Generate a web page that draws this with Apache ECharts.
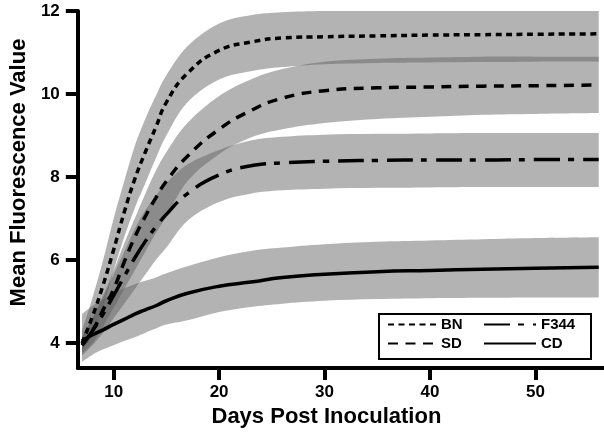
<!DOCTYPE html>
<html>
<head>
<meta charset="utf-8">
<script src="https://cdn.jsdelivr.net/npm/echarts@6/dist/echarts.min.js"></script>
<style>html,body{margin:0;padding:0;background:#fff}#chart{width:604px;height:435px}</style>
</head>
<body>
<div id="chart"></div>
<script>
// Days post inoculation (x positions of the sampled points)
const xs = [7, 8, 9, 10, 11, 12, 13, 14, 15, 17, 20, 23, 26, 30, 35, 40, 45, 50, 56];

const bnMean  = [4.0, 4.65, 5.4, 6.25, 7.15, 7.95, 8.6, 9.2, 9.8, 10.5, 11.05, 11.25, 11.35, 11.38, 11.4, 11.42, 11.43, 11.44, 11.45];
const bnUpper = [4.3, 5.1, 6.0, 7.0, 7.9, 8.75, 9.4, 9.95, 10.45, 11.15, 11.7, 11.9, 11.97, 12.0, 12.0, 12.0, 12.0, 12.0, 12.0];
const bnLower = [3.8, 4.2, 4.85, 5.75, 6.55, 7.25, 7.85, 8.45, 9.0, 9.8, 10.35, 10.55, 10.65, 10.72, 10.75, 10.76, 10.77, 10.78, 10.78];

const sdMean  = [3.95, 4.3, 4.8, 5.3, 5.95, 6.55, 7.05, 7.5, 7.9, 8.5, 9.15, 9.6, 9.9, 10.08, 10.15, 10.17, 10.19, 10.2, 10.22];
const sdUpper = [4.15, 4.6, 5.15, 5.75, 6.4, 7.0, 7.6, 8.15, 8.6, 9.3, 9.95, 10.35, 10.6, 10.78, 10.85, 10.88, 10.9, 10.9, 10.9];
const sdLower = [3.75, 4.0, 4.4, 4.85, 5.3, 5.75, 6.2, 6.65, 7.05, 7.9, 8.55, 8.95, 9.15, 9.3, 9.4, 9.45, 9.5, 9.52, 9.54];

const f344Mean  = [3.95, 4.3, 4.7, 5.15, 5.6, 6.05, 6.45, 6.8, 7.1, 7.6, 8.05, 8.27, 8.34, 8.38, 8.4, 8.41, 8.41, 8.42, 8.42];
const f344Upper = [4.15, 4.6, 5.1, 5.65, 6.2, 6.75, 7.2, 7.55, 7.85, 8.3, 8.65, 8.88, 8.97, 9.02, 9.04, 9.05, 9.06, 9.06, 9.06];
const f344Lower = [3.7, 3.95, 4.25, 4.6, 4.95, 5.3, 5.65, 6.0, 6.3, 6.95, 7.4, 7.6, 7.68, 7.72, 7.74, 7.75, 7.76, 7.76, 7.76];

const cdMean  = [4.05, 4.2, 4.32, 4.45, 4.57, 4.7, 4.8, 4.9, 5.02, 5.2, 5.37, 5.47, 5.58, 5.66, 5.72, 5.75, 5.78, 5.8, 5.83];
const cdUpper = [4.7, 4.9, 5.05, 5.2, 5.32, 5.42, 5.5, 5.58, 5.68, 5.85, 6.07, 6.22, 6.3, 6.38, 6.44, 6.47, 6.5, 6.53, 6.55];
const cdLower = [3.55, 3.72, 3.85, 3.95, 4.05, 4.14, 4.25, 4.35, 4.45, 4.55, 4.75, 4.87, 4.95, 5.02, 5.06, 5.08, 5.09, 5.1, 5.1];

const xTicks = [10, 20, 30, 40, 50];
const yTicks = [4, 6, 8, 10, 12];

const FONT = '"Liberation Sans", Arial, sans-serif';
const bandColor = 'rgba(94,94,94,0.47)';

function pairs(arr) { return xs.map((x, i) => [x, arr[i]]); }

// Smooth path through the band outline (top forward, bottom backward)
function smoothSeg(pts) {
  let d = '';
  const t = 0.18;
  for (let i = 0; i < pts.length - 1; i++) {
    const p0 = pts[Math.max(i - 1, 0)], p1 = pts[i], p2 = pts[i + 1], p3 = pts[Math.min(i + 2, pts.length - 1)];
    const c1 = [p1[0] + (p2[0] - p0[0]) * t, p1[1] + (p2[1] - p0[1]) * t];
    const c2 = [p2[0] - (p3[0] - p1[0]) * t, p2[1] - (p3[1] - p1[1]) * t];
    d += ' C' + c1[0] + ' ' + c1[1] + ' ' + c2[0] + ' ' + c2[1] + ' ' + p2[0] + ' ' + p2[1];
  }
  return d;
}
function buildPath(top, bottom) {
  return 'M' + top[0][0] + ' ' + top[0][1] + smoothSeg(top) +
    ' L' + bottom[0][0] + ' ' + bottom[0][1] + smoothSeg(bottom) + ' Z';
}

function band(key, lower, upper) {
  const data = xs.map((x, i) => [x, lower[i], upper[i]]);
  return {
    type: 'custom', name: key + ' band', data: data, silent: true, z: 1, clip: true,
    encode: { x: 0, y: [1, 2] },
    renderItem: function (params, api) {
      if (params.dataIndex !== 0) return null;
      const top = [], bottom = [];
      for (let i = 0; i < data.length; i++) {
        top.push(api.coord([data[i][0], data[i][2]]));
        bottom.push(api.coord([data[i][0], data[i][1]]));
      }
      bottom.reverse();
      return {
        type: 'path',
        shape: { pathData: buildPath(top, bottom) },
        style: { fill: bandColor, stroke: null, lineWidth: 0 }
      };
    }
  };
}

function meanLine(name, arr, dash, width) {
  return { type: 'line', name: name, data: pairs(arr), symbol: 'circle', showSymbol: false,
    smooth: 0.5, z: 5,
    lineStyle: { color: '#000', width: width, type: dash, cap: 'butt' },
    itemStyle: { color: 'rgba(0,0,0,0)' } };
}

const series = [
  band('BN', bnLower, bnUpper),
  band('SD', sdLower, sdUpper),
  band('F344', f344Lower, f344Upper),
  band('CD', cdLower, cdUpper),
  meanLine('BN', bnMean, [6, 4.5], 3.5),
  meanLine('SD', sdMean, [10, 7.5], 3.5),
  meanLine('F344', f344Mean, [26, 8, 6, 9], 3.5),
  meanLine('CD', cdMean, 'solid', 3.5)
];

const legendCommon = {
  orient: 'vertical', padding: 0, itemHeight: 16, itemGap: 4,
  itemStyle: { color: 'rgba(0,0,0,0)', borderWidth: 0, opacity: 0 },
  textStyle: { fontFamily: FONT, fontWeight: 'bold', fontSize: 15, color: '#000' }
};

const chart = echarts.init(document.getElementById('chart'), null, { renderer: 'canvas' });
chart.setOption({
  animation: false,
  backgroundColor: '#fff',
  grid: { left: 68, right: 0, top: 11, bottom: 67, containLabel: false },
  xAxis: {
    type: 'value', min: 6.6, max: 56.5,
    name: 'Days Post Inoculation', nameLocation: 'middle', nameGap: 33,
    nameTextStyle: { fontFamily: FONT, fontWeight: 'bold', fontSize: 22, color: '#000', padding: [0, 29, 0, 0] },
    axisLine: { show: true, onZero: false, lineStyle: { color: '#000', width: 4 } },
    axisTick: { show: true, length: 12, customValues: xTicks, lineStyle: { color: '#000', width: 4 } },
    axisLabel: { customValues: xTicks, margin: 16, fontFamily: FONT, fontWeight: 'bold', fontSize: 17, color: '#000' },
    splitLine: { show: false }
  },
  yAxis: {
    type: 'value', min: 3.4, max: 12,
    name: 'Mean Fluorescence Value', nameLocation: 'middle', nameGap: 42,
    nameTextStyle: { fontFamily: FONT, fontWeight: 'bold', fontSize: 22, color: '#000', padding: [0, 0, 0, 34] },
    axisLine: { show: true, onZero: false, lineStyle: { color: '#000', width: 4 } },
    axisTick: { show: true, length: 12, customValues: yTicks, lineStyle: { color: '#000', width: 4 } },
    axisLabel: { customValues: yTicks, margin: 18, fontFamily: FONT, fontWeight: 'bold', fontSize: 17, color: '#000' },
    splitLine: { show: false }
  },
  legend: [
    Object.assign({ data: ['BN', 'SD'], left: 387, top: 317, itemWidth: 48 }, legendCommon),
    Object.assign({ data: ['F344', 'CD'], left: 483, top: 317, itemWidth: 52 }, legendCommon)
  ],
  graphic: [
    { type: 'rect', left: 378, top: 313, shape: { width: 212, height: 45 },
      style: { fill: '#fff', stroke: '#000', lineWidth: 2 }, z: 3 }
  ],
  series: series
});
</script>
</body>
</html>
